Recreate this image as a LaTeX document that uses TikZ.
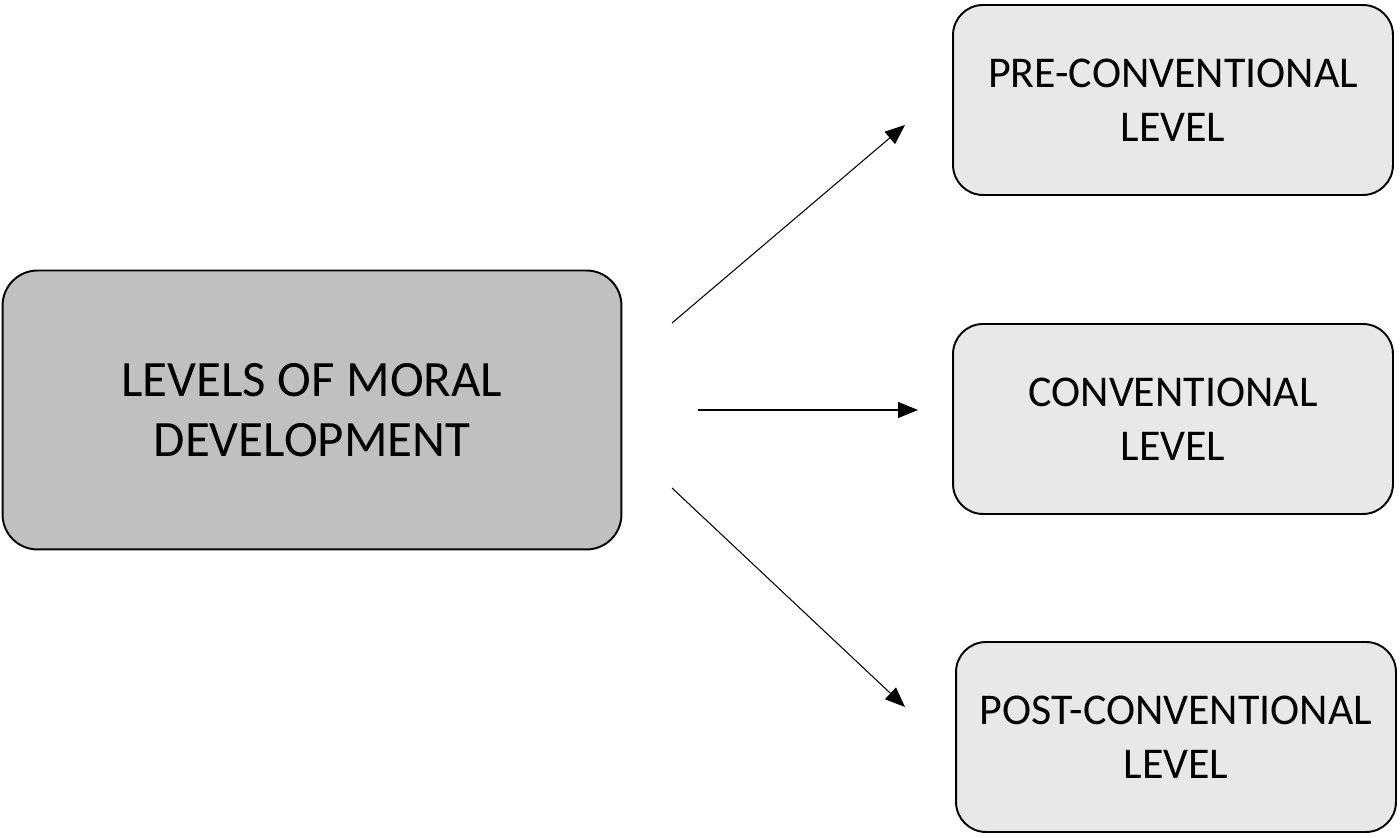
\documentclass[tikz,border=0pt]{standalone}
\usepackage{fontspec}
\setmainfont{Carlito}
\usetikzlibrary{arrows.meta}
\definecolor{maingray}{HTML}{C0C0C0}
\definecolor{levelgray}{HTML}{E8E8E8}

\begin{document}
\begin{tikzpicture}[x=0.02cm,y=0.02cm,
  mainbox/.style={draw=black,line width=1.1pt,fill=maingray,rounded corners=0.7cm,
    minimum width=12.38cm,minimum height=5.58cm,inner sep=0pt,align=center,
    font=\fontsize{29}{34}\selectfont},
  levelbox/.style={draw=black,line width=1.1pt,fill=levelgray,rounded corners=0.6cm,
    minimum width=8.8cm,minimum height=3.8cm,inner sep=0pt,align=center,
    font=\fontsize{25}{31}\selectfont},
  arr/.style={line width=0.6pt,-{Triangle[length=0.4cm,width=0.32cm]}}]
\useasboundingbox (0,0) rectangle (1400,838);
% boxes (pixel units, y counted from the bottom)
\node[mainbox] (moral) at (312,428) {LEVELS OF MORAL\\DEVELOPMENT};
\node[levelbox] (pre) at (1173,738) {PRE-CONVENTIONAL\\LEVEL};
\node[levelbox] (conv) at (1173,419) {CONVENTIONAL\\LEVEL};
\node[levelbox] (post) at (1176,101) {POST-CONVENTIONAL\\LEVEL};
% free ends of the arrows
\coordinate (preS) at (672,515);
\coordinate (preE) at (905,713);
\coordinate (convS) at (698,428);
\coordinate (convE) at (918,428);
\coordinate (postS) at (672,350);
\coordinate (postE) at (905,131);
\draw[arr] (preS) -- (preE);
\draw[arr] (convS) -- (convE);
\draw[arr] (postS) -- (postE);
\end{tikzpicture}
\end{document}
